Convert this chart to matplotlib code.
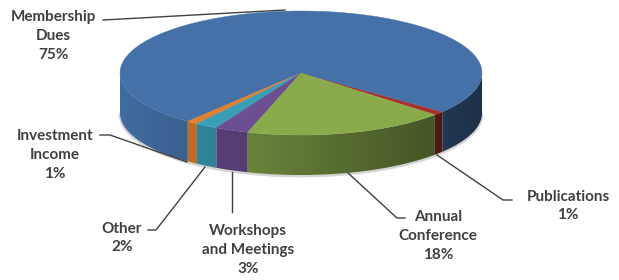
import matplotlib
matplotlib.use("Agg")
import matplotlib.pyplot as plt
from matplotlib.colors import to_rgb
import numpy as np

# --- Data (counterclockwise from the start angle) ---
labels = ["Publications", "Membership\nDues", "Investment\nIncome", "Other",
          "Workshops\nand Meetings", "Annual\nConference"]
values = [1, 75, 1, 2, 3, 18]
colors = ["#a8302c", "#4571a8", "#e2802e", "#3a9fb6", "#6b4f92", "#8aab4c"]

# --- Geometry / style (pixel coordinates) ---
CX, CY = 301, 73
RX, RY = 181, 62
DEPTH = 40
START = -42.3
TEXT_C = "#404040"

# label block centres and leader lines, same order as labels
label_pos = [(568, 206), (53, 36), (55, 155), (122, 238), (248, 250), (438, 236)]
leaders = [
    [(437, 155), (503, 200), (512, 200)],
    [(103, 20), (285, 10)],
    [(100, 135), (110, 135), (187, 162)],
    [(148, 230), (156, 230), (205, 167)],
    [(232, 172), (232, 212)],
    [(348, 173), (397, 218), (405, 218)],
]

plt.rcParams["font.family"] = ["Lato", "DejaVu Sans"]

fig = plt.figure(figsize=(6.19, 2.8), dpi=100)
ax = fig.add_axes([0, 0, 1, 1])
ax.set_xlim(0, 619)
ax.set_ylim(280, 0)
ax.axis("off")


def ell(t_deg, dy=0.0):
    t = np.radians(t_deg)
    return CX + RX * np.cos(t), CY - RY * np.sin(t) + dy


def shade(c, x):
    u = (x - (CX - RX)) / (2 * RX)
    f = 0.95 - 0.52 * u
    return np.clip(np.outer(f, to_rgb(c)), 0, 1)


spans = np.array(values) / sum(values) * 360
starts = (START + np.concatenate([[0], np.cumsum(spans)[:-1]])) % 360

# soft shadow under the pie
ts = np.linspace(180, 360, 120)
sx, sy = ell(ts, DEPTH)
ax.plot(sx, sy + 1, color="#888888", linewidth=2.0, alpha=0.35, zorder=0)

# side walls (front half only), gradient clipped to each wall
for a, sp, c in zip(starts, spans, colors):
    b = a + sp
    for lo, hi in [(180, 360), (540, 720)]:
        s, e = max(a, lo), min(b, hi)
        if e <= s:
            continue
        ts = np.linspace(s, e, max(3, int(e - s) * 2 + 2))
        xs, ys = ell(ts)
        pts = list(zip(xs, ys)) + list(zip(xs[::-1], ys[::-1] + DEPTH))
        poly = plt.Polygon(pts, closed=True, facecolor="none", edgecolor="none")
        ax.add_patch(poly)
        x0, x1 = xs.min() - 1, xs.max() + 1
        gx = np.linspace(x0, x1, 64)
        img = shade(c, gx)[None, :, :]
        y0, y1 = ys.min() - 1, ys.max() + DEPTH + 1
        im = ax.imshow(img, extent=(x0, x1, y1, y0), aspect="auto",
                       interpolation="bilinear", zorder=1)
        im.set_clip_path(poly)
ax.set_xlim(0, 619)
ax.set_ylim(280, 0)

# top face
for a, sp, c in zip(starts, spans, colors):
    ts = np.linspace(a, a + sp, max(3, int(sp) + 2))
    xs, ys = ell(ts)
    pts = [(CX, CY)] + list(zip(xs, ys))
    ax.add_patch(plt.Polygon(pts, closed=True, facecolor=c, edgecolor=c,
                             linewidth=0.3, zorder=2))

# labels and leader lines
for lab, v, (x, y), pts in zip(labels, values, label_pos, leaders):
    ax.text(x, y, f"{lab}\n{v}%", ha="center", va="center", multialignment="center",
            fontsize=11, fontweight="bold", color=TEXT_C, linespacing=1.42)
    px, py = zip(*pts)
    ax.plot(px, py, color=TEXT_C, linewidth=1.0, zorder=3)

fig.savefig("out.png", dpi=100)
